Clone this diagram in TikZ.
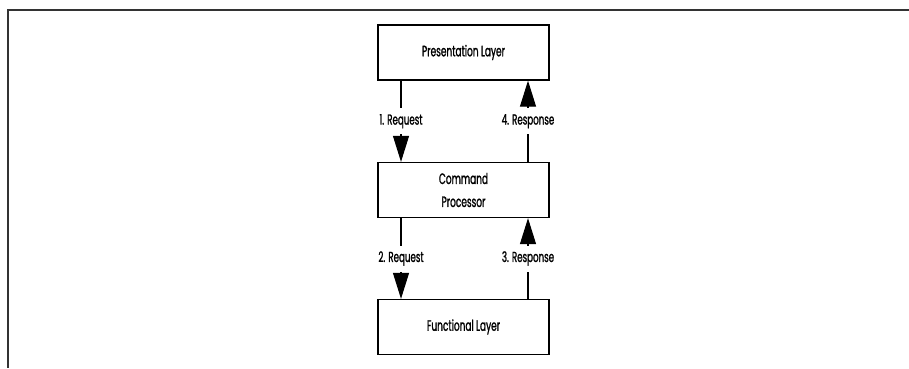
\documentclass[tikz,border=0pt]{standalone}
\usepackage{fontspec}
\setmainfont{Poppins}[FakeStretch=0.6,FakeBold=1.2]
\usetikzlibrary{arrows.meta}
\begin{document}
\begin{tikzpicture}[x=1pt,y=-1pt,
  layerbox/.style={draw=black,line width=1.3pt,minimum width=171pt,minimum height=55pt,inner sep=0pt,align=center,font=\fontsize{15}{23}\selectfont},
  flow/.style={line width=1.1pt,-{Triangle[length=26pt,width=16pt]}},
  lbl/.style={fill=white,inner sep=2pt,minimum height=26pt,font=\fontsize{14.5}{16}\selectfont}]
\useasboundingbox (0,0) rectangle (909,368);
\draw[line width=2pt,draw=black!80] (909,10) -- (7.5,10) -- (7.5,368);
\node[layerbox] (pres) at (463.5,52.5) {Presentation Layer};
\node[layerbox] (cmd) at (463.5,190) {Command\\Processor};
\node[layerbox] (func) at (463.5,327) {Functional Layer};
\coordinate (lx) at (401,0);
\coordinate (rx) at (528,0);
\draw[flow] (pres.south -| lx) -- node[lbl]{1. Request} (cmd.north -| lx);
\draw[flow] (cmd.north -| rx) -- node[lbl]{4. Response} (pres.south -| rx);
\draw[flow] (cmd.south -| lx) -- node[lbl]{2. Request} (func.north -| lx);
\draw[flow] (func.north -| rx) -- node[lbl]{3. Response} (cmd.south -| rx);
\end{tikzpicture}
\end{document}
